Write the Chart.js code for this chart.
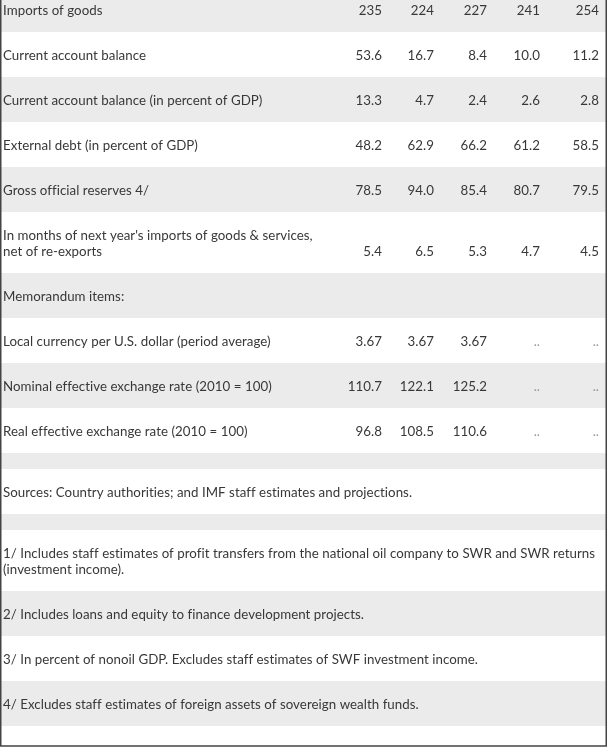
<!DOCTYPE html>
<html lang="en">
<head>
  <meta charset="UTF-8">
  <title>Balance of payments table</title>
  <script src="https://cdn.jsdelivr.net/npm/chart.js"></script>
  <style>
    body { margin: 0; background: #fff; }
    #wrap { width: 609px; height: 750px; }
  </style>
</head>
<body>
<div id="wrap"><canvas id="tabla" width="609" height="750"></canvas></div>

<script>
  // Row labels of the numeric part of the table
  const rowLabels = [
    'Imports of goods',
    'Current account balance',
    'Current account balance (in percent of GDP)',
    'External debt (in percent of GDP)',
    'Gross official reserves 4/',
    "In months of next year's imports of goods & services,\nnet of re-exports",
    'Memorandum items:',
    'Local currency per U.S. dollar (period average)',
    'Nominal effective exchange rate (2010 = 100)',
    'Real effective exchange rate (2010 = 100)'
  ];

  // One array per year column (null = ".." not available)
  const col1 = [235, 53.6, 13.3, 48.2, 78.5, 5.4, null, 3.67, 110.7, 96.8];
  const col2 = [224, 16.7, 4.7, 62.9, 94.0, 6.5, null, 3.67, 122.1, 108.5];
  const col3 = [227, 8.4, 2.4, 66.2, 85.4, 5.3, null, 3.67, 125.2, 110.6];
  const col4 = [241, 10.0, 2.6, 61.2, 80.7, 4.7, null, null, null, null];
  const col5 = [254, 11.2, 2.8, 58.5, 79.5, 4.5, null, null, null, null];

  // Decimals shown in each row (null = row without numbers)
  const decimals = [0, 1, 1, 1, 1, 1, null, 2, 1, 1];

  // Footnotes under the table
  const notes = [
    'Sources: Country authorities; and IMF staff estimates and projections.',
    '1/ Includes staff estimates of profit transfers from the national oil company to SWR and SWR returns\n(investment income).',
    '2/ Includes loans and equity to finance development projects.',
    '3/ In percent of nonoil GDP. Excludes staff estimates of SWF investment income.',
    '4/ Excludes staff estimates of foreign assets of sovereign wealth funds.'
  ];

  const columns = [col1, col2, col3, col4, col5];

  // Layout (table is scrolled, so the first row is cut at the top)
  const FIRST_TOP = -13;
  const LINE_H = 16;
  const ROW_PAD = 29;
  const SPACER_H = 16;
  const LAST_SPACER_H = 20;
  const TABLE_W = 607;
  const TEXT_LEFT = 3;
  const TEXT_SHIFT = 1;
  const COL_RIGHT = [382, 434, 487, 540, 599];
  const FONT = '13.3px Lato';

  // Build the list of rows: data rows, spacers and notes
  const rows = [];
  rowLabels.forEach((lab, i) => {
    rows.push({ text: lab, values: columns.map(c => c[i]), dec: decimals[i] });
  });
  rows.push({ spacer: true });
  rows.push({ text: notes[0] });
  rows.push({ spacer: true });
  notes.slice(1).forEach(n => rows.push({ text: n }));
  rows.push({ spacer: true, last: true });

  // Plugin that draws the striped rows and the cell texts through the scales
  const tablePlugin = {
    id: 'tablePlugin',
    beforeDatasetsDraw(chart) {
      const { ctx, scales: { x, y } } = chart;
      const left = x.getPixelForValue(0);
      const right = x.getPixelForValue(TABLE_W);
      let top = FIRST_TOP;

      ctx.save();
      ctx.font = FONT;
      ctx.letterSpacing = '0.04px';
      ctx.textBaseline = 'middle';

      rows.forEach((r, i) => {
        const lines = r.spacer ? [] : r.text.split('\n');
        const h = r.spacer ? (r.last ? LAST_SPACER_H : SPACER_H) : ROW_PAD + LINE_H * lines.length;
        const y0 = y.getPixelForValue(top);
        const y1 = y.getPixelForValue(top + h);

        if (i % 2 === 0) {
          ctx.fillStyle = '#ebebeb';
          ctx.fillRect(left, y0, right - left, y1 - y0);
        }

        // label lines
        ctx.fillStyle = '#383838';
        ctx.textAlign = 'left';
        lines.forEach((ln, k) => {
          const cy = top + ROW_PAD / 2 + LINE_H * k + LINE_H / 2 + TEXT_SHIFT;
          ctx.fillText(ln, x.getPixelForValue(TEXT_LEFT), y.getPixelForValue(cy));
        });

        // numbers, aligned with the last label line
        if (r.values && r.dec !== null) {
          const cy = top + ROW_PAD / 2 + LINE_H * (lines.length - 1) + LINE_H / 2 + TEXT_SHIFT;
          ctx.textAlign = 'right';
          r.values.forEach((v, c) => {
            const px = x.getPixelForValue(COL_RIGHT[c]);
            if (v === null) {
              ctx.fillStyle = '#999';
              ctx.fillText('..', px, y.getPixelForValue(cy));
            } else {
              ctx.fillStyle = '#383838';
              ctx.fillText(v.toFixed(r.dec), px, y.getPixelForValue(cy));
            }
          });
        }
        top += h;
      });

      // table border: left, right and bottom
      ctx.strokeStyle = '#444';
      ctx.lineWidth = 1.5;
      ctx.beginPath();
      ctx.moveTo(left + 0.75, 0);
      ctx.lineTo(left + 0.75, y.getPixelForValue(top));
      ctx.lineTo(right - 0.75, y.getPixelForValue(top));
      ctx.lineTo(right - 0.75, 0);
      ctx.stroke();
      ctx.restore();
    }
  };

  const config = {
    type: 'scatter',
    data: { datasets: [{ data: [] }] },
    options: {
      responsive: false,
      animation: false,
      layout: { padding: 0 },
      plugins: { legend: { display: false }, tooltip: { enabled: false } },
      scales: {
        x: { type: 'linear', min: 0, max: 609, display: false },
        y: { type: 'linear', min: 0, max: 750, reverse: true, display: false }
      }
    },
    plugins: [tablePlugin]
  };

  new Chart(document.getElementById('tabla').getContext('2d'), config);
</script>
</body>
</html>
